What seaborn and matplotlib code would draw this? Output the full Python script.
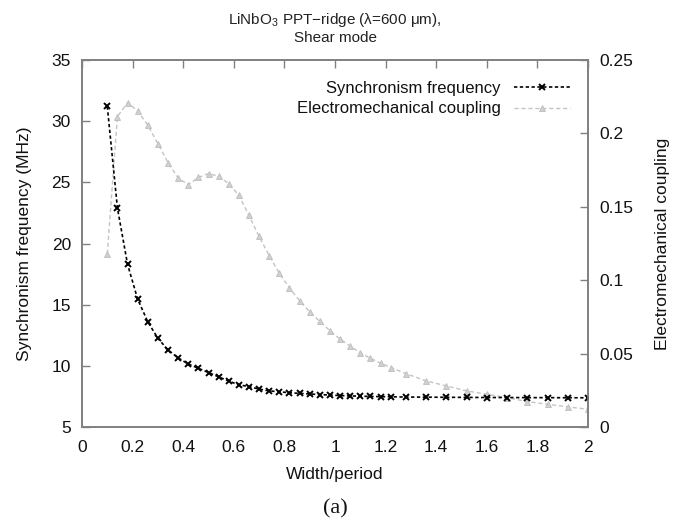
import matplotlib
matplotlib.use("Agg")
import matplotlib.pyplot as plt
import seaborn as sns
import pandas as pd

width_period = [0.10, 0.14, 0.18, 0.22, 0.26, 0.30, 0.34, 0.38, 0.42, 0.46,
                0.50, 0.54, 0.58, 0.62, 0.66, 0.70, 0.74, 0.78, 0.82, 0.86,
                0.90, 0.94, 0.98, 1.02, 1.06, 1.10, 1.14, 1.18, 1.22, 1.28,
                1.36, 1.44, 1.52, 1.60, 1.68, 1.76, 1.84, 1.92, 2.00]
sync_freq = [31.2, 22.9, 18.3, 15.45, 13.6, 12.25, 11.3, 10.65, 10.15, 9.8,
             9.45, 9.1, 8.75, 8.45, 8.3, 8.1, 7.95, 7.88, 7.8, 7.75,
             7.7, 7.65, 7.61, 7.57, 7.54, 7.52, 7.5, 7.48, 7.47, 7.45,
             7.44, 7.43, 7.42, 7.41, 7.41, 7.40, 7.40, 7.39, 7.39]
em_coupling = [0.118, 0.2115, 0.2208, 0.2154, 0.2056, 0.193, 0.180, 0.1696, 0.165, 0.170,
               0.1726, 0.1708, 0.1658, 0.1578, 0.1441, 0.1298, 0.1168, 0.1047, 0.0947, 0.086,
               0.0785, 0.0719, 0.0656, 0.0599, 0.0551, 0.0506, 0.0468, 0.0435, 0.0405, 0.0364,
               0.0314, 0.028, 0.0246, 0.0223, 0.020, 0.0173, 0.0155, 0.0137, 0.0121]

x_ticks = [0, 0.2, 0.4, 0.6, 0.8, 1, 1.2, 1.4, 1.6, 1.8, 2]
x_ticklabels = ["0", "0.2", "0.4", "0.6", "0.8", "1", "1.2", "1.4", "1.6", "1.8", "2"]
left_ticks = [5, 10, 15, 20, 25, 30, 35]
right_ticks = [0, 0.05, 0.1, 0.15, 0.2, 0.25]
right_ticklabels = ["0", "0.05", "0.1", "0.15", "0.2", "0.25"]

df = pd.DataFrame({"w": width_period, "f": sync_freq, "k": em_coupling})

sns.set_theme(style="white")
plt.rcParams["font.family"] = ["Liberation Sans", "DejaVu Sans"]
plt.rcParams["mathtext.fontset"] = "custom"
plt.rcParams["mathtext.rm"] = "Liberation Sans"

spine_col = "#808080"
fig = plt.figure(figsize=(6.75, 5.27), dpi=100)
ax = fig.add_axes([82 / 675, 1 - 427 / 527, (588 - 82) / 675, (427 - 60) / 527])
ax2 = ax.twinx()

sns.lineplot(data=df, x="w", y="k", ax=ax2, color="#c4c4c4", marker="^",
             markersize=5, markeredgecolor="#bdbdbd", markerfacecolor="#d0d0d0",
             markeredgewidth=0.6,
             linestyle=(0, (3, 2)), linewidth=1.0, label="Electromechanical coupling",
             legend=False)
sns.lineplot(data=df, x="w", y="f", ax=ax, color="black", marker="x",
             markersize=4.8, markeredgewidth=1.4, markeredgecolor="black",
             linestyle=(0, (2, 1.5)), linewidth=1.2,
             label="Synchronism frequency", legend=False)

ax.set_xlim(0, 2)
ax.set_ylim(5, 35)
ax2.set_ylim(0, 0.25)
ax.set_xticks(x_ticks)
ax.set_xticklabels(x_ticklabels)
ax.set_yticks(left_ticks)
ax2.set_yticks(right_ticks)
ax2.set_yticklabels(right_ticklabels)

fs = 12.5
ax.tick_params(axis="both", direction="in", length=6, width=1, color=spine_col,
               labelsize=fs, pad=8, labelcolor="#111111")
ax.tick_params(axis="x", top=True, pad=9)
ax2.tick_params(axis="y", direction="in", length=6, width=1, color=spine_col,
                labelsize=fs, pad=8, labelcolor="#111111")
for a in (ax, ax2):
    for s in a.spines.values():
        s.set_color(spine_col)
        s.set_linewidth(1.2)

ax.set_xlabel("Width/period", fontsize=fs, labelpad=9, color="#111111")
ax.set_ylabel("Synchronism frequency (MHz)", fontsize=fs, labelpad=14, color="#111111")
ax2.set_ylabel("Electromechanical coupling", fontsize=fs, labelpad=16, color="#111111")

ax2.set_zorder(0)
ax.set_zorder(1)
ax.patch.set_visible(False)

h1, l1 = ax.get_legend_handles_labels()
h2, l2 = ax2.get_legend_handles_labels()
ax.legend(h1 + h2, l1 + l2, loc="upper right", bbox_to_anchor=(0.995, 0.985),
          frameon=False, markerfirst=False, fontsize=12, handlelength=3.4,
          handletextpad=0.8, labelspacing=0.35, labelcolor="#111111")

fig.text((82 + 588) / 2 / 675, 1 - 28 / 527,
         "LiNbO$_3$ PPT\u2212ridge (\u03bb=600 \u03bcm),\nShear mode",
         ha="center", va="center", fontsize=11, color="#222222", linespacing=1.15)
fig.text((82 + 588) / 2 / 675, 1 - 509 / 527, "(a)", ha="center", va="center",
         fontsize=16, family=["Liberation Serif", "DejaVu Serif"], color="#111111")

fig.savefig("out.png", dpi=100)
